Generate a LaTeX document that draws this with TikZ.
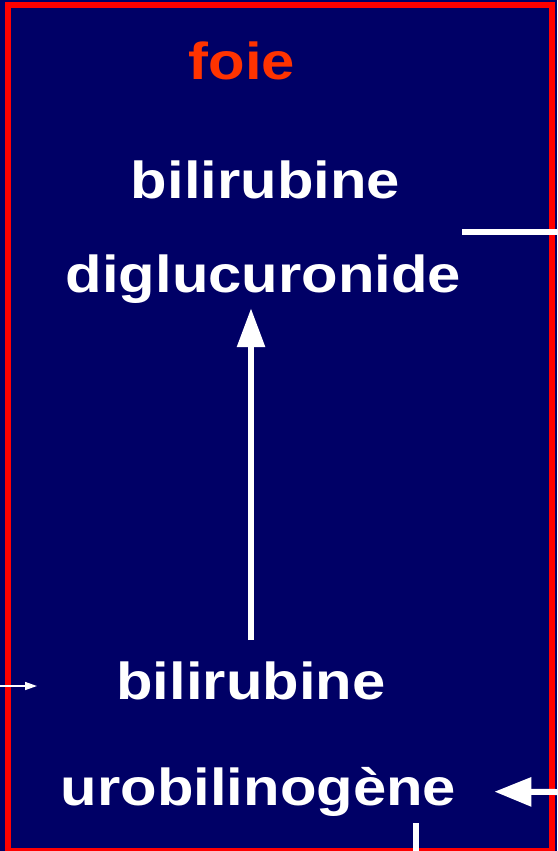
\documentclass[tikz,border=0pt]{standalone}
\usepackage{fontspec}
\newfontfamily\labelfont[FakeStretch=1.15]{Liberation Sans Bold}
\usepackage{tikz}
\usetikzlibrary{arrows.meta,calc,positioning}
\definecolor{navy}{RGB}{0,0,102}
\definecolor{foiered}{RGB}{255,51,0}

\begin{document}
\begin{tikzpicture}[x=1pt,y=-1pt,
    molec/.style={font=\labelfont\fontsize{52}{60}\selectfont, text=white, inner sep=0pt, anchor=base},
    flow/.style={draw=white, line width=6pt}]
        \def\w{557}
        \def\h{851}
        % Draw the background
        \useasboundingbox (0,0) rectangle (\w,\h);
        \fill[navy] (0,0) rectangle (\w,\h);
        % Draw the liver frame
        \draw[red, line width=6pt] (8,5.5) rectangle (552,\h);
        \node[molec, text=foiered] (foie) at (242,79) {foie};
        % Draw the molecules
        \node[molec] (bil1) at (265.5,198) {bilirubine};
        \node[molec] (diglu) at (263.5,292) {diglucuronide};
        \node[molec] (bil2) at (251,699) {bilirubine};
        \node[molec] (uro) at (258.5,805) {urobilinog\`ene};
        % free ends
        \coordinate (inL) at (0,686);
        \coordinate (tipL) at (37,686);
        \coordinate (outA) at (462,232);
        \coordinate (outB) at (\w,232);
        \coordinate (inR) at (\w,792);
        \coordinate (downA) at (416,823);
        \coordinate (downB) at (416,\h);
        % arrows
        \draw[flow, -{Triangle[length=39pt,width=27pt]}, shorten <=21pt, shorten >=5pt]
            (bil2.north) -- (bil2.north |- diglu.south);
        \draw[white, line width=1.5pt, -{Triangle[length=12pt,width=8pt]}] (inL) -- (tipL);
        \draw[flow, line width=5.5pt] (outA) -- (outB);
        \draw[flow, -{Triangle[length=37pt,width=28pt]}, shorten >=38pt] (inR) -- (uro.east);
        \draw[flow] (downA) -- (downB);
      \end{tikzpicture}
\end{document}
